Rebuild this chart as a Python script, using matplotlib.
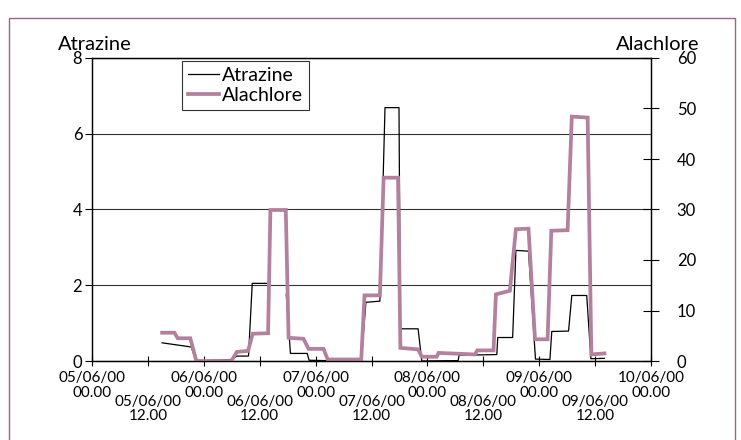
import matplotlib
matplotlib.use('Agg')
import matplotlib.pyplot as plt
import matplotlib.patches as mpatches
import pandas as pd
import numpy as np

plt.rcParams['font.family'] = ['Lato', 'DejaVu Sans']
plt.rcParams['font.size'] = 12

START = pd.Timestamp('2000-06-05 00:00')
END = pd.Timestamp('2000-06-10 00:00')

# hours since 05/06/00 00.00
atr_hours = [15.05, 21.3, 22.4, 29.9, 31.1, 33.6, 34.4, 37.5, 39.5, 41.7, 42.6,
             46.2, 46.6, 50.2, 57.8, 58.8, 61.8, 62.9, 65.9, 66.2, 70.0, 70.8,
             78.6, 78.8, 86.9, 87.1, 90.3, 91.0, 93.7, 95.2, 98.3, 98.7, 102.3,
             103.0, 106.2, 107.1, 110.0]
atr_vals = [0.48, 0.37, 0.0, 0.04, 0.13, 0.13, 2.05, 2.05, np.nan, 1.76, 0.2,
            0.2, 0.02, 0.01, 0.01, 1.55, 1.58, 6.69, 6.69, 0.85, 0.85, 0.0,
            0.01, 0.15, 0.17, 0.62, 0.62, 2.92, 2.9, 0.05, 0.04, 0.78, 0.79,
            1.73, 1.73, 0.06, 0.07]

alc_hours = [15.05, 17.7, 18.4, 21.1, 22.4, 29.9, 31.1, 33.5, 34.5, 37.8, 38.3,
             41.6, 42.2, 45.4, 46.5, 49.7, 50.6, 57.8, 58.5, 61.8, 62.6, 65.7,
             66.2, 70.0, 70.8, 74.0, 74.4, 82.2, 82.7, 86.2, 86.7, 89.7, 91.0,
             93.7, 95.1, 97.8, 98.6, 102.1, 103.0, 106.4, 107.2, 110.0]
alc_vals = [5.6, 5.6, 4.5, 4.5, 0.0, 0.0, 1.8, 2.0, 5.4, 5.5, 29.9,
            29.9, 4.6, 4.4, 2.4, 2.4, 0.3, 0.3, 13.0, 13.0, 36.3, 36.3,
            2.6, 2.3, 0.85, 0.85, 1.6, 1.3, 2.1, 2.1, 13.2, 13.9, 26.1,
            26.2, 4.3, 4.3, 25.8, 25.9, 48.4, 48.2, 1.3, 1.5]

left_ticks = [0, 2, 4, 6, 8]
right_ticks = [0, 10, 20, 30, 40, 50, 60]

MAUVE = '#b3809d'

atr_t = START + pd.to_timedelta(atr_hours, unit='h')
alc_t = START + pd.to_timedelta(alc_hours, unit='h')

fig = plt.figure(figsize=(7.41, 4.40), dpi=100)
ax = fig.add_axes([92 / 741, 1 - 361 / 440, 559 / 741, 303 / 440])
ax2 = ax.twinx()

# frame around the whole picture
fig.patches.append(mpatches.Rectangle((9 / 741, -0.05), 726 / 741, 1.05 - 18 / 440,
                                      transform=fig.transFigure, fill=False,
                                      edgecolor='#a0628c', linewidth=1.0))

l1, = ax.plot(atr_t, atr_vals, color='black', lw=0.9, label='Atrazine')
l2, = ax2.plot(alc_t, alc_vals, color=MAUVE, lw=2.7, label='Alachlore',
               solid_joinstyle='miter')

ax.set_xlim(START, END)
ax.set_ylim(0, 8)
ax2.set_ylim(0, 60)

ax.set_yticks(left_ticks)
ax.set_yticklabels([str(v) for v in left_ticks])
ax2.set_yticks(right_ticks)
ax2.set_yticklabels([str(v) for v in right_ticks])

ax.grid(axis='y', color='#333333', lw=0.8)

# 00.00 ticks on the first row, 12.00 ticks one row lower
days = pd.date_range(START, END, freq='24h')
noons = pd.date_range(START + pd.Timedelta(hours=12), END, freq='24h')
ax.set_xticks(days)
ax.set_xticklabels([d.strftime('%d/%m/%y') + '\n' + d.strftime('%H.%M') for d in days],
                   linespacing=1.02, fontsize=11)
ax.set_xticks(noons, minor=True)
ax.set_xticklabels([d.strftime('%d/%m/%y') + '\n' + d.strftime('%H.%M') for d in noons],
                   minor=True, linespacing=1.02, fontsize=11)

ax.tick_params(axis='x', which='both', direction='inout', length=7, width=0.8)
ax.tick_params(axis='x', which='major', pad=4)
ax.tick_params(axis='x', which='minor', pad=21)
ax.tick_params(axis='y', direction='out', length=5, width=0.8, pad=2)
ax2.tick_params(axis='y', direction='inout', length=11, width=0.8, pad=13)

for a in (ax, ax2):
    for sp in a.spines.values():
        sp.set_linewidth(0.9)
        sp.set_color('black')

fig.text(95 / 741, 1 - 44 / 440, 'Atrazine', ha='center', va='center', fontsize=14.5)
fig.text(658 / 741, 1 - 44 / 440, 'Alachlore', ha='center', va='center', fontsize=14.5)

leg = ax2.legend([l1, l2], ['Atrazine', 'Alachlore'], loc='upper left',
                 bbox_to_anchor=((182 - 92) / 559, 1 - 3 / 303), fontsize=14,
                 frameon=True, fancybox=False, framealpha=1, edgecolor='#333333',
                 handlelength=1.6, handletextpad=0.15, borderpad=0.3,
                 labelspacing=0.15, borderaxespad=0)
leg.get_frame().set_linewidth(0.8)

fig.savefig('out.png', dpi=100)
